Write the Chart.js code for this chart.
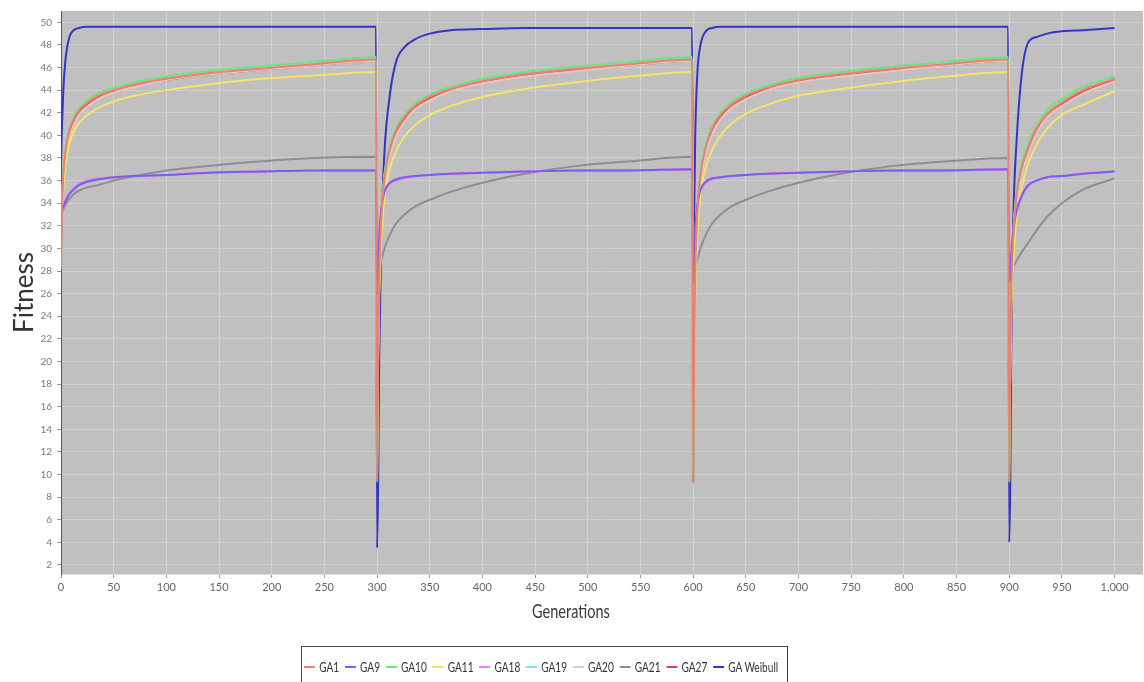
<!DOCTYPE html>
<html>
<head>
<meta charset="utf-8">
<script src="https://cdn.jsdelivr.net/npm/chart.js@4.4.1/dist/chart.umd.min.js"></script>
<style>
  body { margin: 0; background: #fff; overflow: hidden; }
  #wrap { position: relative; width: 1144px; height: 682px; }
  #xTitle { position: absolute; top: 600px; white-space: nowrap; transform-origin: 0 0;
            font: 19px Lato, sans-serif; color: #3a3a3a; line-height: 22px; }
  #legend { position: absolute; left: 301px; top: 646px; width: 487px; height: 46px; box-sizing: border-box;
            border: 1px solid #444; }
  #legendRow { position: absolute; left: 2px; top: 12px; display: flex; white-space: nowrap; transform-origin: 0 0;
               font: 14px Lato, sans-serif; color: #333; }
  .item { display: flex; align-items: center; margin-right: 8px; line-height: 16px; height: 16px; }
  .mark { width: 15px; height: 2px; margin-right: 6px; }
</style>
</head>
<body>
<div id="wrap">
  <canvas id="fitnessChart" width="1144" height="682"></canvas>
  <div id="xTitle">Generations</div>
  <div id="legend"><div id="legendRow"></div></div>
</div>
<script>
// generations sampled along the four runs (restart at 300, 600, 900)
const generations = [
  0, 1, 2, 3, 5, 8, 12, 17, 25, 35, 50, 70, 100, 140, 190, 240, 299,
  300, 301, 302, 304, 307, 312, 318, 326, 336, 350, 370, 400, 440, 490, 540, 599,
  600, 601, 602, 604, 607, 612, 618, 626, 636, 650, 670, 700, 740, 790, 840, 899,
  900, 901, 902, 904, 907, 912, 918, 926, 936, 950, 970, 1000
];

const xTicks = [0, 50, 100, 150, 200, 250, 300, 350, 400, 450, 500, 550, 600, 650, 700, 750, 800, 850, 900, 950, 1000];
const yTicks = [2, 4, 6, 8, 10, 12, 14, 16, 18, 20, 22, 24, 26, 28, 30, 32, 34, 36, 38, 40, 42, 44, 46, 48, 50];

const ga1 = [
  28.2, 33.6, 36.2, 37.5, 39.0, 40.4, 41.4, 42.2, 42.9, 43.5, 44.0, 44.5, 45.0, 45.5, 45.9, 46.3, 46.7,
  9.5, 21.5, 27.6, 32.7, 36.2, 38.7, 40.4, 41.6, 42.6, 43.4, 44.1, 44.8, 45.4, 45.9, 46.3, 46.7,
  9.3, 22.0, 28.1, 33.2, 36.5, 38.9, 40.6, 41.8, 42.7, 43.5, 44.2, 44.9, 45.4, 45.9, 46.3, 46.7,
  9.5, 20.6, 26.6, 31.2, 34.7, 37.2, 38.9, 40.6, 41.9, 42.9, 44.0, 45.0
];
const ga9 = [
  30.0, 33.2, 33.6, 33.9, 34.3, 34.8, 35.2, 35.6, 35.9, 36.1, 36.3, 36.4, 36.5, 36.7, 36.8, 36.9, 36.9,
  26.0, 28.0, 31.0, 33.5, 35.0, 35.8, 36.1, 36.3, 36.4, 36.5, 36.6, 36.7, 36.8, 36.9, 36.9, 37.0,
  27.0, 28.5, 31.5, 33.8, 35.2, 35.9, 36.2, 36.3, 36.4, 36.5, 36.6, 36.7, 36.8, 36.9, 36.9, 37.0,
  27.0, 27.5, 29.5, 31.5, 33.3, 34.7, 35.6, 36.0, 36.3, 36.4, 36.6, 36.8
];
const ga10 = [
  29.5, 34.0, 36.5, 37.8, 39.3, 40.6, 41.6, 42.4, 43.1, 43.7, 44.2, 44.7, 45.2, 45.7, 46.1, 46.5, 46.9,
  9.4, 22.0, 28.0, 33.0, 36.5, 39.0, 40.6, 41.8, 42.8, 43.6, 44.3, 45.0, 45.6, 46.1, 46.5, 46.9,
  9.3, 22.5, 28.5, 33.5, 36.8, 39.2, 40.8, 42.0, 42.9, 43.7, 44.4, 45.1, 45.6, 46.1, 46.5, 46.9,
  9.4, 21.0, 27.0, 31.5, 35.0, 37.5, 39.2, 40.9, 42.2, 43.2, 44.3, 45.2
];
const ga11 = [
  29.0, 32.5, 35.0, 36.4, 38.0, 39.3, 40.3, 41.1, 41.8, 42.4, 43.0, 43.5, 44.0, 44.5, 45.0, 45.3, 45.6,
  12.0, 20.0, 25.5, 30.5, 34.5, 37.0, 38.6, 39.9, 40.9, 41.8, 42.6, 43.4, 44.1, 44.7, 45.2, 45.6,
  12.0, 20.5, 26.0, 31.0, 34.8, 37.2, 38.7, 40.0, 41.0, 41.9, 42.7, 43.5, 44.1, 44.7, 45.2, 45.6,
  12.0, 19.0, 24.5, 29.0, 32.8, 35.5, 37.5, 39.2, 40.6, 41.8, 42.7, 43.9
];
const ga18 = [
  29.0, 33.3, 33.7, 34.0, 34.4, 34.9, 35.3, 35.7, 36.0, 36.2, 36.3, 36.4, 36.5, 36.7, 36.8, 36.9, 36.9,
  24.0, 27.5, 30.7, 33.3, 34.9, 35.7, 36.0, 36.2, 36.4, 36.5, 36.6, 36.7, 36.8, 36.9, 36.9, 37.0,
  25.0, 28.0, 31.2, 33.6, 35.1, 35.8, 36.1, 36.3, 36.4, 36.5, 36.6, 36.7, 36.8, 36.9, 36.9, 37.0,
  25.0, 27.0, 29.2, 31.3, 33.1, 34.6, 35.5, 36.0, 36.3, 36.4, 36.6, 36.8
];
const ga19 = [
  29.5, 34.0, 36.5, 37.8, 39.3, 40.6, 41.6, 42.4, 43.1, 43.7, 44.2, 44.7, 45.2, 45.7, 46.1, 46.5, 46.9,
  10.0, 22.0, 28.0, 33.0, 36.5, 39.0, 40.6, 41.8, 42.8, 43.6, 44.3, 45.0, 45.6, 46.1, 46.5, 46.9,
  10.0, 22.5, 28.5, 33.5, 36.8, 39.2, 40.8, 42.0, 42.9, 43.7, 44.4, 45.1, 45.6, 46.1, 46.5, 46.9,
  10.0, 21.0, 27.0, 31.5, 35.0, 37.5, 39.2, 40.9, 42.2, 43.2, 44.3, 45.2
];
const ga20 = [
  28.8, 33.0, 35.5, 36.9, 38.4, 39.8, 40.9, 41.8, 42.5, 43.2, 43.8, 44.3, 44.9, 45.4, 45.8, 46.2, 46.6,
  11.0, 21.0, 27.0, 32.0, 35.6, 38.2, 39.9, 41.2, 42.3, 43.1, 43.9, 44.6, 45.2, 45.7, 46.2, 46.6,
  11.0, 21.5, 27.5, 32.5, 35.9, 38.4, 40.1, 41.4, 42.4, 43.2, 44.0, 44.7, 45.2, 45.7, 46.2, 46.6,
  11.0, 20.0, 26.0, 30.5, 34.0, 36.6, 38.4, 40.2, 41.6, 42.6, 43.7, 44.8
];
const ga21 = [
  31.0, 33.0, 33.4, 33.7, 34.0, 34.4, 34.8, 35.1, 35.4, 35.6, 36.0, 36.4, 36.9, 37.3, 37.7, 38.0, 38.1,
  27.0, 27.8, 28.3, 29.0, 30.0, 31.2, 32.2, 33.0, 33.7, 34.3, 35.0, 35.8, 36.6, 37.3, 37.7, 38.1,
  27.5, 27.8, 28.3, 29.0, 30.0, 31.2, 32.2, 33.0, 33.7, 34.3, 35.0, 35.8, 36.6, 37.3, 37.7, 38.0,
  27.5, 27.8, 28.0, 28.4, 28.9, 29.7, 30.5, 31.6, 32.8, 34.0, 35.2, 36.2
];
const ga27 = [
  28.5, 33.5, 36.0, 37.4, 38.9, 40.3, 41.3, 42.1, 42.8, 43.4, 43.9, 44.4, 44.9, 45.4, 45.8, 46.2, 46.6,
  9.6, 21.2, 27.4, 32.5, 36.0, 38.6, 40.3, 41.5, 42.5, 43.3, 44.0, 44.7, 45.3, 45.8, 46.2, 46.6,
  9.4, 21.7, 27.9, 33.0, 36.3, 38.8, 40.5, 41.7, 42.6, 43.4, 44.1, 44.8, 45.3, 45.8, 46.2, 46.6,
  9.6, 20.4, 26.4, 31.0, 34.5, 37.0, 38.8, 40.5, 41.8, 42.8, 43.9, 44.9
];
const gaWeibull = [
  37.6, 41.0, 43.5, 45.3, 47.3, 48.7, 49.3, 49.5, 49.6, 49.6, 49.6, 49.6, 49.6, 49.6, 49.6, 49.6, 49.6,
  3.5, 9.0, 20.0, 31.0, 38.5, 43.5, 46.5, 47.8, 48.5, 49.0, 49.3, 49.4, 49.5, 49.5, 49.5, 49.5,
  27.0, 33.0, 40.0, 45.5, 48.0, 49.2, 49.5, 49.6, 49.6, 49.6, 49.6, 49.6, 49.6, 49.6, 49.6, 49.6,
  4.0, 9.0, 22.0, 33.0, 39.5, 45.5, 48.2, 48.7, 49.0, 49.2, 49.3, 49.5
];

const seriesNames = ['GA1', 'GA9', 'GA10', 'GA11', 'GA18', 'GA19', 'GA20', 'GA21', 'GA27', 'GA Weibull'];
const seriesValues = [ga1, ga9, ga10, ga11, ga18, ga19, ga20, ga21, ga27, gaWeibull];
const seriesColors = ['#ec8070', '#7a5cf0', '#74e07a', '#f4e468', '#f07af0', '#7ae8f0',
                      '#f0c4c4', '#8e8e8e', '#d04646', '#3434c4'];

const datasets = seriesNames.map((name, k) => ({
  label: name,
  data: generations.map((g, i) => ({ x: g, y: seriesValues[k][i] })),
  borderColor: seriesColors[k],
  backgroundColor: seriesColors[k],
  borderWidth: 2,
  pointRadius: 0,
  cubicInterpolationMode: 'monotone',
  fill: false
}));

// html legend, squeezed to the narrow look of the original
const legendRow = document.getElementById('legendRow');
seriesNames.forEach((name, k) => {
  const item = document.createElement('div');
  item.className = 'item';
  item.innerHTML = '<span class="mark" style="background:' + seriesColors[k] + '"></span><span>' + name + '</span>';
  legendRow.appendChild(item);
});
legendRow.style.transform = 'scaleX(' + (480 / legendRow.scrollWidth) + ')';

const xTitle = document.getElementById('xTitle');
const titleScale = 78 / xTitle.scrollWidth;
xTitle.style.transform = 'scaleX(' + titleScale + ')';
xTitle.style.left = (571 - 39) + 'px';

const plotBackground = {
  id: 'plotBackground',
  beforeDraw(chart) {
    const { ctx, chartArea } = chart;
    ctx.save();
    ctx.fillStyle = '#c0c0c0';
    ctx.fillRect(chartArea.left, chartArea.top, chartArea.width, chartArea.height);
    ctx.restore();
  }
};

const ctx = document.getElementById('fitnessChart').getContext('2d');
new Chart(ctx, {
  type: 'line',
  data: { datasets: datasets },
  plugins: [plotBackground],
  options: {
    responsive: false,
    animation: false,
    devicePixelRatio: 1,
    layout: { padding: { top: 9, right: 1, left: 0, bottom: 0 } },
    plugins: {
      legend: { display: false },
      tooltip: { enabled: false }
    },
    scales: {
      x: {
        type: 'linear',
        min: 0,
        max: 1027,
        afterFit: s => { s.height = 108; },
        afterBuildTicks: s => { s.ticks = xTicks.map(v => ({ value: v })); },
        ticks: {
          color: '#666',
          font: { family: 'Lato', size: 11 },
          padding: 3,
          maxRotation: 0,
          callback: v => v.toLocaleString('en-US')
        },
        grid: { color: '#d4d4d4', tickColor: '#999', tickLength: 4 },
        border: { color: '#dcdcdc' }
      },
      y: {
        min: 1.2,
        max: 51,
        afterFit: s => { s.width = 61; },
        afterBuildTicks: s => { s.ticks = yTicks.map(v => ({ value: v })); },
        ticks: {
          color: '#7a7a7a',
          font: { family: 'Lato', size: 10 },
          padding: 5
        },
        grid: { color: '#d0d0d0', tickColor: '#999', tickLength: 4 },
        border: { color: '#555', width: 1 },
        title: {
          display: true,
          text: 'Fitness',
          color: '#333',
          font: { family: 'Lato', size: 26 },
          padding: { top: 9, bottom: 0 }
        }
      }
    }
  }
});
</script>
</body>
</html>
